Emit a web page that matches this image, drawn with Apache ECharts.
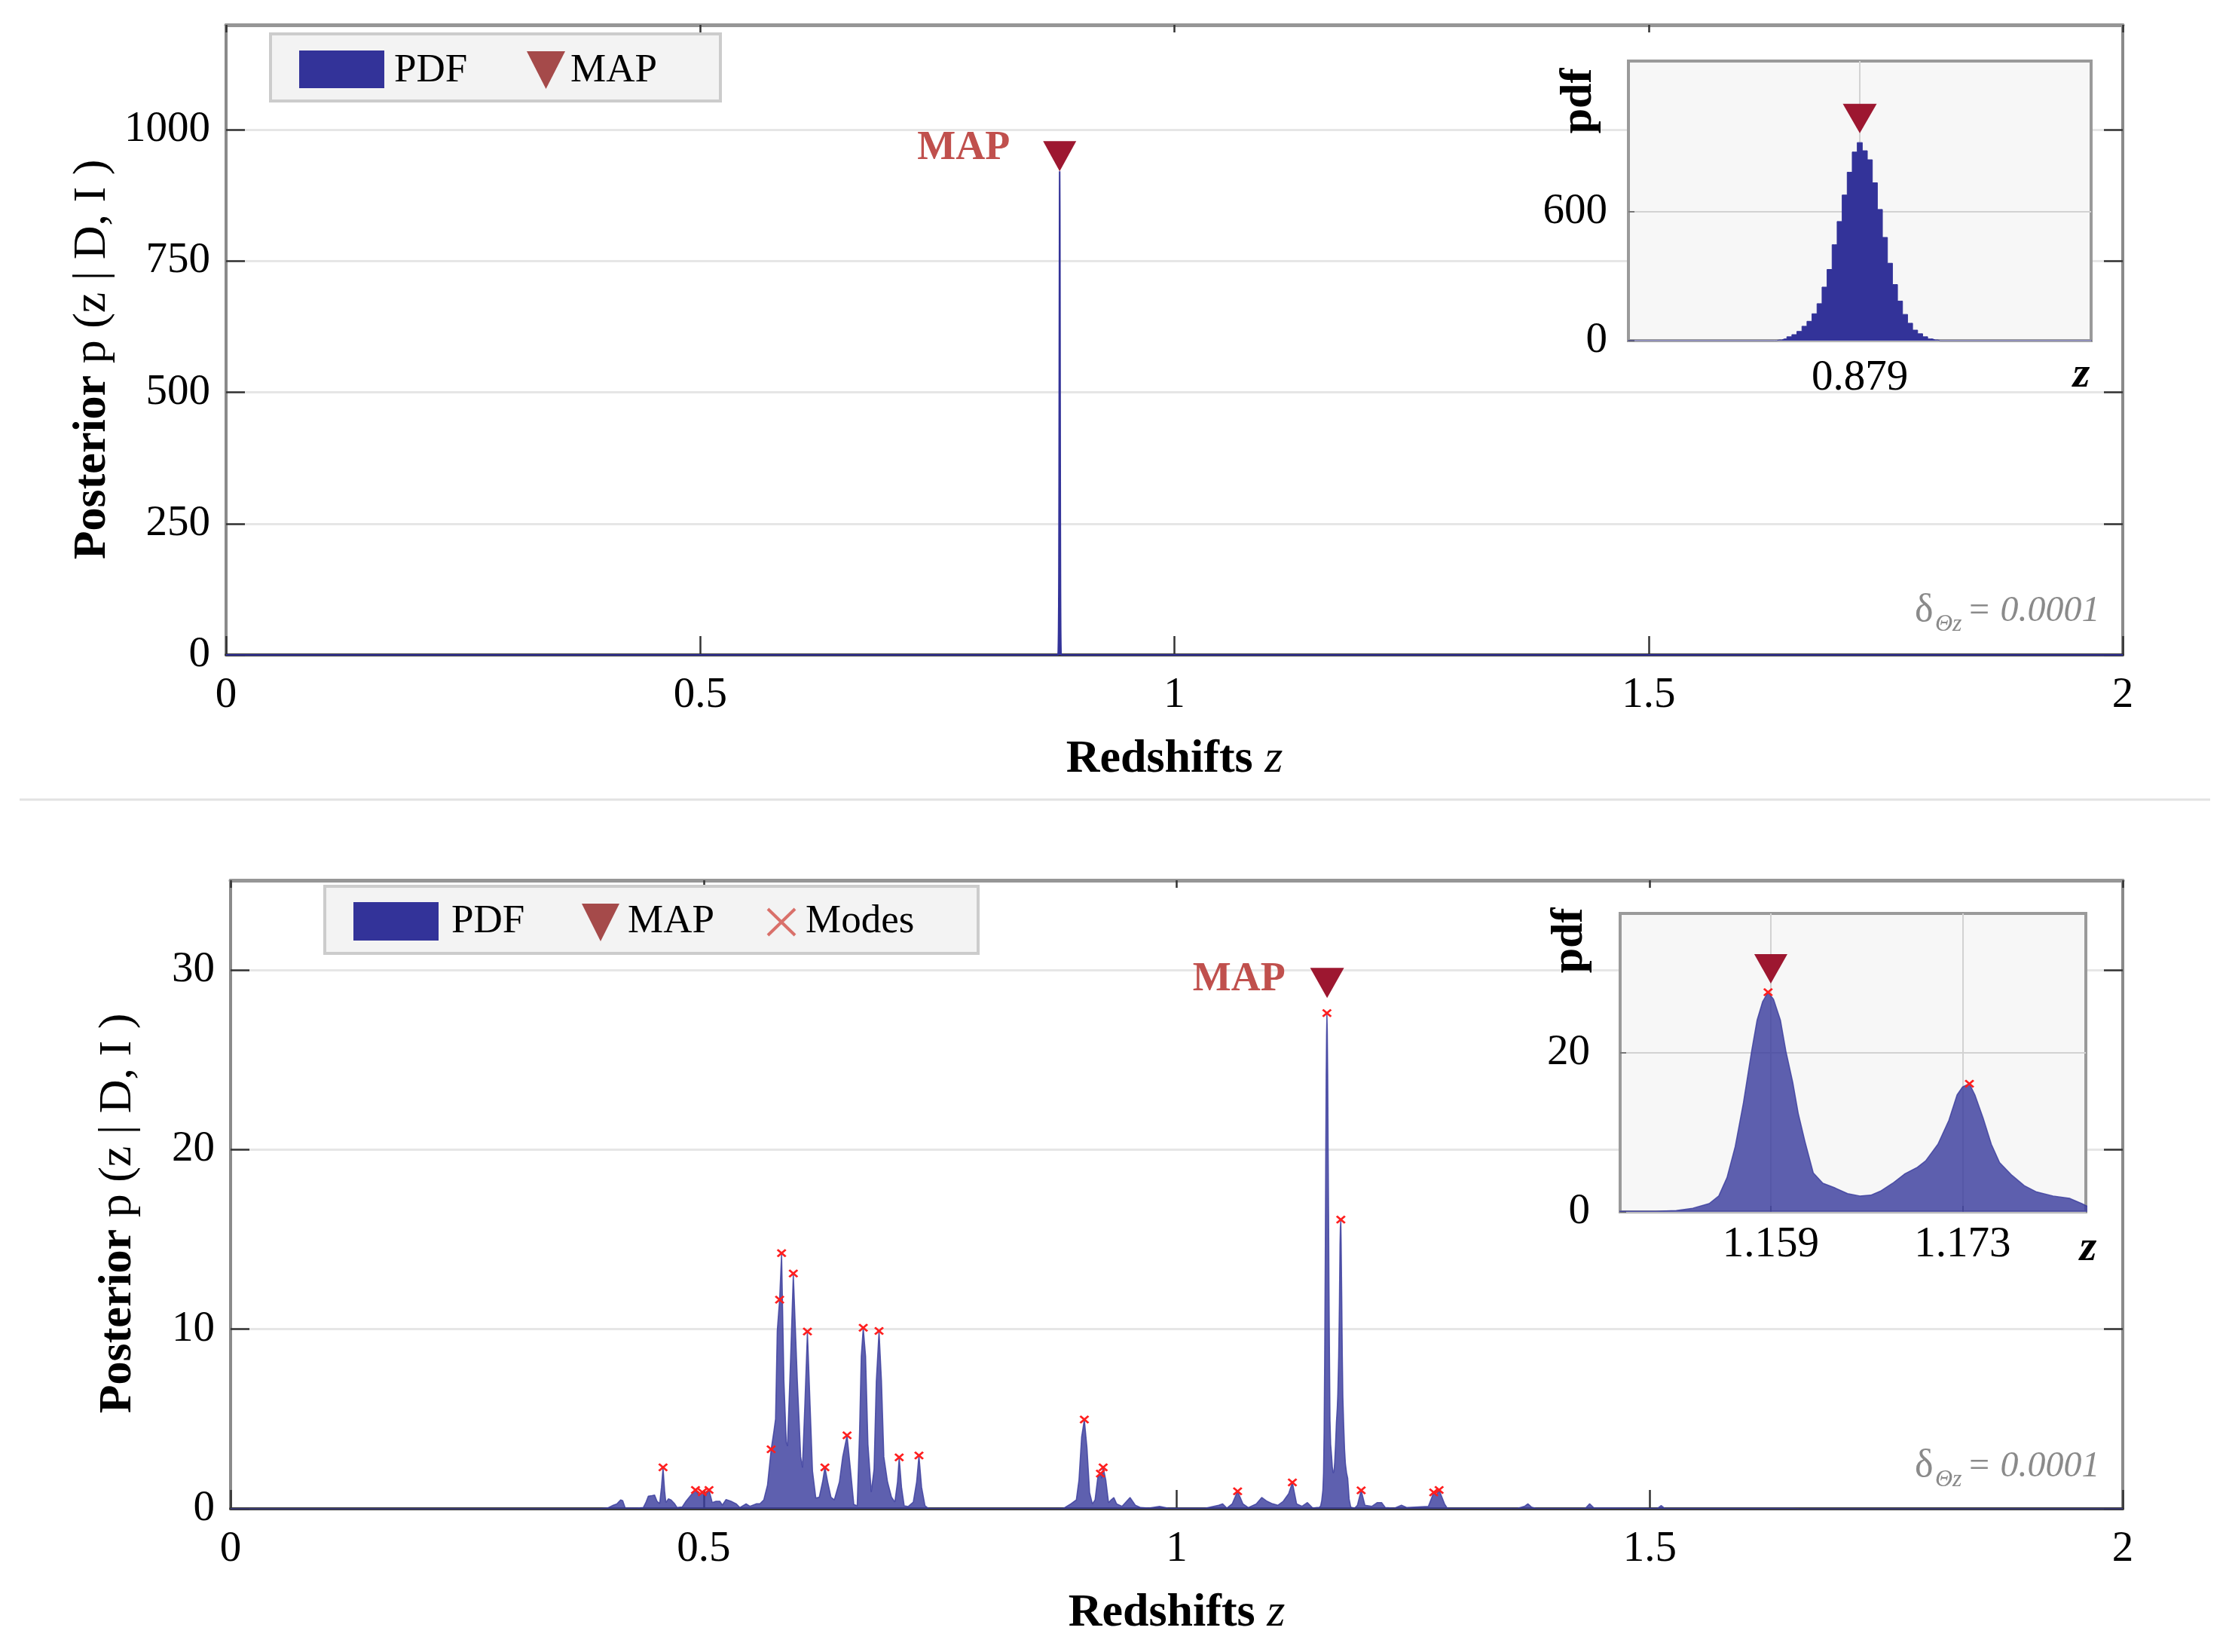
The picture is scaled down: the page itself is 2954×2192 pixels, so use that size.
<!DOCTYPE html>
<html>
<head>
<meta charset="utf-8">
<script src="https://cdn.jsdelivr.net/npm/echarts@6/dist/echarts.min.js"></script>
<style>
html,body{margin:0;padding:0;background:#ffffff;}
#c{width:2954px;height:2192px;}
</style>
</head>
<body>
<div id="c"></div>
<script>
// ---------------- DATA ----------------
const xTicksMain = [0, 0.5, 1, 1.5, 2];
const topYTicks = [0, 250, 500, 750, 1000];
const topInsetYTicks = [0, 600];
const topInsetXTicks = [0.879];
const botYTicks = [0, 10, 20, 30];
const botInsetYTicks = [0, 20];
const botInsetXTicks = [1.159, 1.173];

// top panel: posterior pdf bins (delta = 0.0001)
const topPdfZ = [0, 0.8773,
  0.8774,0.8775,0.8776,0.8777,0.8778,0.8779,0.8780,0.8781,0.8782,0.8783,0.8784,0.8785,0.8786,0.8787,0.8788,0.8789,
  0.8790,0.8791,0.8792,0.8793,0.8794,0.8795,0.8796,0.8797,0.8798,0.8799,0.8800,0.8801,0.8802,0.8803,0.8804,0.8805,
  0.8806, 2];
const topPdfVal = [0, 0,
  3,8,18,28,43,67,90,125,172,249,331,446,554,677,783,877,
  921,883,841,734,610,480,360,261,184,122,81,49,32,18,8,3,
  0, 0];
const topMap = [0.879, 921];

// bottom panel: posterior pdf outline [z, p]
const botPdf = [
  [0,0],[0.390,0],[0.3985,0.05],[0.4045,0.20],[0.4084,0.28],[0.4124,0.50],[0.4145,0.45],[0.4171,0.05],[0.4300,0.04],
  [0.4362,0.07],[0.4389,0.35],[0.4415,0.70],[0.4455,0.74],[0.4481,0.77],[0.4508,0.42],[0.4535,0.30],[0.4554,1.20],[0.4571,2.31],[0.4588,1.00],[0.4601,0.35],[0.4628,0.56],[0.4654,0.50],[0.4694,0.28],[0.4720,0.07],
  [0.4773,0.10],[0.4813,0.42],[0.4866,0.77],[0.4914,1.05],[0.4951,0.75],[0.4986,0.92],[0.5020,0.75],[0.5057,1.05],[0.5091,0.35],[0.5131,0.42],[0.5171,0.42],[0.5198,0.21],[0.5237,0.52],[0.5290,0.42],[0.5344,0.28],[0.5383,0.07],
  [0.5449,0.28],[0.5489,0.14],[0.5556,0.28],[0.5595,0.28],[0.5635,0.49],[0.5675,1.33],[0.5714,3.32],
  [0.5742,4.3],[0.5760,5.0],[0.5778,9.9],[0.5803,11.65],[0.5824,14.24],[0.5849,7.1],[0.5874,3.7],[0.5886,3.5],[0.5920,8.5],[0.5948,13.1],[0.5991,7.1],[0.6026,2.9],[0.6044,2.3],[0.6069,5.7],[0.6097,9.87],[0.6126,5.7],[0.6151,2.1],[0.6186,0.6],[0.6222,0.65],[0.6257,1.5],[0.6282,2.31],[0.6311,1.5],[0.6346,0.65],[0.6381,0.5],[0.6435,1.5],[0.6470,2.9],[0.6516,4.09],[0.6552,2.2],[0.6588,0.24],[0.6623,0.17],[0.6648,4.3],[0.6666,8.5],[0.6687,10.08],[0.6712,8.5],[0.6737,3.6],[0.6772,0.94],[0.6801,2.2],[0.6825,7.1],[0.6854,9.9],[0.6880,7.1],[0.6905,2.9],[0.6944,1.5],[0.6986,0.65],[0.7021,0.38],[0.7049,1.5],[0.7067,2.86],[0.7092,1.2],[0.7120,0.17],[0.7163,0.13],[0.7216,0.38],[0.7251,1.5],[0.7276,2.97],[0.7304,1.2],[0.7340,0.17],[0.7375,0.03],
  [0.8800,0.02],[0.8882,0.28],[0.8939,0.5],[0.8967,1.6],[0.8995,4.0],[0.9024,4.97],[0.9052,3.4],[0.9080,0.9],[0.9109,0.28],[0.9137,0.5],[0.9166,1.75],[0.9194,1.96],[0.9208,1.7],[0.9223,2.31],[0.9251,1.6],[0.9280,0.35],[0.9308,0.5],[0.9336,0.63],[0.9365,0.28],[0.9422,0.14],[0.9507,0.63],[0.9563,0.2],[0.9620,0.07],[0.9706,0.04],[0.9819,0.14],[0.9905,0.04],
  [1.0300,0.03],[1.0445,0.2],[1.0485,0.28],[1.0530,0.04],[1.0587,0.28],[1.0644,0.98],[1.0700,0.28],[1.0757,0.07],[1.0843,0.28],[1.0899,0.63],[1.0956,0.42],[1.1013,0.28],[1.1069,0.2],[1.1126,0.42],[1.1183,0.84],[1.1223,1.47],[1.1268,0.28],[1.1325,0.14],[1.1382,0.35],[1.1439,0.04],
  [1.1482,0.07],[1.1506,0.07],[1.1521,0.16],[1.1533,0.46],[1.1545,1.04],[1.1552,2.0],[1.1558,4.3],[1.1564,8.2],[1.1570,13.7],[1.1576,20.2],[1.1580,24.1],[1.1584,26.4],[1.1588,27.6],[1.1592,26.7],[1.1597,24.1],[1.1601,20.2],[1.1606,16.3],[1.1610,12.4],[1.1615,8.8],[1.1621,4.9],[1.1628,3.6],[1.1637,3.0],[1.1646,2.3],[1.1655,2.0],[1.1663,2.1],[1.1670,2.6],[1.1679,3.6],[1.1688,4.8],[1.1697,5.6],[1.1703,6.4],[1.1712,8.5],[1.1720,11.5],[1.1726,14.7],[1.1730,15.7],[1.1735,16.1],[1.1739,14.7],[1.1745,11.8],[1.1751,8.5],[1.1757,6.2],[1.1766,4.6],[1.1775,3.3],[1.1784,2.5],[1.1796,2.0],[1.1808,1.7],[1.1817,1.04],[1.1823,0.55],[1.1840,0.1],
  [1.1880,0.03],[1.1910,0.2],[1.1950,1.03],[1.1990,0.2],[1.2064,0.14],[1.2121,0.35],[1.2166,0.35],[1.2206,0.07],[1.2300,0.03],[1.2376,0.2],[1.2434,0.07],[1.2660,0.14],[1.2717,0.91],[1.2745,0.75],[1.2774,1.05],[1.2831,0.28],[1.2860,0.04],
  [1.3600,0.02],[1.3680,0.15],[1.3712,0.28],[1.3750,0.1],[1.3800,0.02],[1.4320,0.03],[1.4365,0.28],[1.4410,0.05],[1.5080,0.02],[1.5121,0.18],[1.5160,0.02],[1.6500,0.02],[1.6600,0],[2,0]
];
const botModes = [
  [0.4571,2.31],[0.4914,1.05],[0.4986,0.92],[0.5057,1.05],[0.5714,3.32],[0.5803,11.65],[0.5824,14.24],[0.5948,13.1],
  [0.6097,9.87],[0.6282,2.31],[0.6516,4.09],[0.6687,10.08],[0.6854,9.9],[0.7067,2.86],[0.7276,2.97],[0.9024,4.97],
  [0.9194,1.96],[0.9223,2.31],[1.0644,0.98],[1.1223,1.47],[1.1588,27.6],[1.1735,16.1],[1.1950,1.03],[1.2717,0.91],[1.2774,1.05]
];
const botMap = [1.159, 27.6];

// ---------------- STYLE ----------------
const FONT = 'Liberation Serif';
const PDF_TOP = '#333399';
const PDF_BOT = 'rgba(58,61,158,0.82)';
const MAP_COL = '#9d1730';
const MAP_TXT = '#c0504d';
const MODE_COL = '#ff1f1f';
const TRI_DOWN = 'path://M0,0L10,0L5,10Z';
const CROSS = 'path://M0,1.6L1.6,0L5,3.4L8.4,0L10,1.6L6.6,5L10,8.4L8.4,10L5,6.6L1.6,10L0,8.4L3.4,5Z';

const topPdf = topPdfZ.map((z, i) => [z, topPdfVal[i]]);

const plain = (v) => String(v);
const lbl = (extra) => Object.assign({fontFamily: FONT, fontSize: 57, color: '#000', formatter: plain}, extra);
const tickStyle = {color: '#333', width: 2.5};
const yName = (shift) => ({
  fontFamily: FONT, fontSize: 62, color: '#000', padding: [0, shift, 0, 0],
  rich: {
    b: {fontFamily: FONT, fontSize: 62, fontWeight: 'bold', color: '#000'},
    r: {fontFamily: FONT, fontSize: 62, color: '#000'}
  }
});
const xName = {
  fontFamily: FONT, fontSize: 62, color: '#000',
  rich: {
    b: {fontFamily: FONT, fontSize: 62, fontWeight: 'bold', color: '#000'},
    i: {fontFamily: FONT, fontSize: 62, fontStyle: 'italic', color: '#000'}
  }
};

function mainXAxes(gi) {
  return [
    {type: 'value', gridIndex: gi, position: 'bottom', min: 0, max: 2, interval: 0.5,
     axisLine: {show: true, onZero: false, lineStyle: {color: '#3c3c3c', width: 4}},
     axisTick: {show: true, inside: true, length: 25, lineStyle: tickStyle},
     axisLabel: lbl({margin: 26}),
     splitLine: {show: false},
     name: '{b|Redshifts} {i|z}', nameLocation: 'middle', nameGap: 108, nameTextStyle: xName},
    {type: 'value', gridIndex: gi, position: 'top', min: 0, max: 2, interval: 0.5,
     axisLine: {show: true, onZero: false, lineStyle: {color: '#969696', width: 5}},
     axisTick: {show: true, inside: true, length: 10, lineStyle: tickStyle},
     axisLabel: {show: false}, splitLine: {show: false}}
  ];
}
function mainYAxes(gi, max, interval, ticks, gap, shift) {
  return [
    {type: 'value', gridIndex: gi, position: 'left', min: 0, max: max, interval: interval,
     axisLine: {show: true, onZero: false, lineStyle: {color: '#8a8a8a', width: 4}},
     axisTick: {show: true, inside: true, length: 25, customValues: ticks, lineStyle: tickStyle},
     axisLabel: lbl({margin: 21, customValues: ticks}),
     splitLine: {show: true, lineStyle: {color: '#e6e6e6', width: 3}},
     name: '{b|Posterior} {r|p (z | D, I )}', nameLocation: 'middle', nameRotate: 90, nameGap: gap, nameTextStyle: yName(shift)},
    {type: 'value', gridIndex: gi, position: 'right', min: 0, max: max, interval: interval,
     axisLine: {show: true, onZero: false, lineStyle: {color: '#8a8a8a', width: 4}},
     axisTick: {show: true, inside: true, length: 25, customValues: ticks, lineStyle: tickStyle},
     axisLabel: {show: false}, splitLine: {show: false}}
  ];
}
function insetX(gi, min, max, ticks, margin) {
  return {type: 'value', gridIndex: gi, min: min, max: max, z: 11,
    axisLine: {show: false},
    axisTick: {show: true, inside: true, length: 8, customValues: ticks, lineStyle: {color: '#777', width: 2}},
    axisLabel: lbl({margin: margin, customValues: ticks}),
    splitLine: {show: true, lineStyle: {color: '#d2d2d2', width: 2}}};
}
function insetY(gi, max, ticks, margin) {
  return {type: 'value', gridIndex: gi, min: 0, max: max, z: 11,
    axisLine: {show: false},
    axisTick: {show: true, inside: true, length: 8, customValues: ticks, lineStyle: {color: '#777', width: 2}},
    axisLabel: lbl({margin: margin, customValues: ticks}),
    splitLine: {show: true, lineStyle: {color: '#d2d2d2', width: 2}}};
}

const mapLabel = (dist, off) => ({
  show: true, position: 'left', distance: dist, offset: off, formatter: '{a}',
  fontFamily: FONT, fontWeight: 'bold', fontSize: 54, color: MAP_TXT
});

const txt = (x, y, text, font, fill, extra) => Object.assign({
  type: 'text', x: x, y: y, z: 100,
  style: {text: text, font: font, fill: fill || '#000', textAlign: 'left', textVerticalAlign: 'middle'}
}, extra || {});
const ctxt = (x, y, text, font, rot) => ({
  type: 'text', x: x, y: y, z: 100, rotation: rot || 0,
  style: {text: text, font: font, fill: '#000', textAlign: 'center', textVerticalAlign: 'middle'}
});

const graphics = [
  {type: 'line', z: 100, shape: {x1: 26, y1: 1061, x2: 2933, y2: 1061}, style: {stroke: '#e2e2e2', lineWidth: 3}},
  // top legend
  {type: 'rect', z: 100, shape: {x: 359, y: 45, width: 597, height: 89}, style: {fill: '#f3f3f3', stroke: '#cccccc', lineWidth: 4}},
  {type: 'rect', z: 101, shape: {x: 397, y: 67, width: 113, height: 50}, style: {fill: '#333399'}},
  txt(523, 94, 'PDF', '53px "Liberation Serif"'),
  {type: 'polygon', z: 101, shape: {points: [[699, 68], [750, 68], [724.5, 118]]}, style: {fill: '#a54a4a'}},
  txt(757, 94, 'MAP', '53px "Liberation Serif"'),
  // bottom legend
  {type: 'rect', z: 100, shape: {x: 431, y: 1176, width: 867, height: 89}, style: {fill: '#f3f3f3', stroke: '#cccccc', lineWidth: 4}},
  {type: 'rect', z: 101, shape: {x: 469, y: 1197, width: 113, height: 51}, style: {fill: '#333399'}},
  txt(599, 1223, 'PDF', '53px "Liberation Serif"'),
  {type: 'polygon', z: 101, shape: {points: [[772, 1199], [822, 1199], [797, 1249]]}, style: {fill: '#a54a4a'}},
  txt(833, 1223, 'MAP', '53px "Liberation Serif"'),
  {type: 'line', z: 101, shape: {x1: 1019, y1: 1206, x2: 1055, y2: 1241}, style: {stroke: '#d9706a', lineWidth: 4}},
  {type: 'line', z: 101, shape: {x1: 1055, y1: 1206, x2: 1019, y2: 1241}, style: {stroke: '#d9706a', lineWidth: 4}},
  txt(1069, 1223, 'Modes', '53px "Liberation Serif"'),
  // resolution notes
  txt(2541, 810, 'δ', '52px "Liberation Serif"', '#8a8a8a'),
  txt(2568, 829, 'Θz', 'italic 32px "Liberation Serif"', '#8a8a8a'),
  txt(2610, 811, '= 0.0001', 'italic 48px "Liberation Serif"', '#8a8a8a'),
  txt(2541, 1945, 'δ', '52px "Liberation Serif"', '#8a8a8a'),
  txt(2568, 1964, 'Θz', 'italic 32px "Liberation Serif"', '#8a8a8a'),
  txt(2610, 1946, '= 0.0001', 'italic 48px "Liberation Serif"', '#8a8a8a'),
  // inset axis names
  ctxt(2095, 134, 'pdf', 'bold 60px "Liberation Serif"', Math.PI / 2),
  ctxt(2083, 1248, 'pdf', 'bold 60px "Liberation Serif"', Math.PI / 2),
  ctxt(2762, 498, 'z', 'italic bold 58px "Liberation Serif"'),
  ctxt(2771, 1657, 'z', 'italic bold 58px "Liberation Serif"')
];

const option = {
  animation: false,
  backgroundColor: '#ffffff',
  textStyle: {fontFamily: FONT},
  grid: [
    {left: 300, top: 33, width: 2517, height: 836, outerBoundsMode: 'none'},
    {left: 2161, top: 81, width: 614, height: 371, show: true, backgroundColor: '#f7f7f7', borderColor: '#9a9a9a', borderWidth: 4, z: 10, outerBoundsMode: 'none'},
    {left: 306, top: 1168, width: 2511, height: 834, outerBoundsMode: 'none'},
    {left: 2150, top: 1212, width: 618, height: 396, show: true, backgroundColor: '#f7f7f7', borderColor: '#9a9a9a', borderWidth: 4, z: 10, outerBoundsMode: 'none'}
  ],
  xAxis: [
    ...mainXAxes(0),
    insetX(1, 0.8744, 0.8836, topInsetXTicks, 22),
    ...mainXAxes(2),
    insetX(3, 1.148, 1.182, botInsetXTicks, 16)
  ],
  yAxis: [
    ...mainYAxes(0, 1200, 250, topYTicks, 137, 52),
    insetY(1, 1300, topInsetYTicks, 28),
    ...mainYAxes(2, 35, 10, botYTicks, 118, 50),
    insetY(3, 37.5, botInsetYTicks, 40)
  ],
  series: [
    {name: 'PDF', type: 'line', xAxisIndex: 0, yAxisIndex: 0, data: topPdf, showSymbol: false, symbol: 'none', z: 2,
     lineStyle: {color: PDF_TOP, width: 2}, areaStyle: {color: PDF_TOP, opacity: 1}, itemStyle: {color: PDF_TOP}},
    {name: 'PDF', type: 'line', xAxisIndex: 2, yAxisIndex: 2, data: topPdf, showSymbol: false, symbol: 'none', step: 'middle', z: 12,
     lineStyle: {color: PDF_TOP, width: 1}, areaStyle: {color: PDF_TOP, opacity: 1}, itemStyle: {color: PDF_TOP}},
    {name: 'MAP', type: 'scatter', xAxisIndex: 0, yAxisIndex: 0, data: [topMap], symbol: TRI_DOWN, symbolKeepAspect: false,
     symbolSize: [44, 40], symbolOffset: [0, -20], itemStyle: {color: MAP_COL, opacity: 1}, z: 5, label: mapLabel(44, [0, -10])},
    {name: 'MAP', type: 'scatter', xAxisIndex: 2, yAxisIndex: 2, data: [topMap], symbol: TRI_DOWN, symbolKeepAspect: false, clip: false,
     symbolSize: [45, 39], symbolOffset: [0, -32], itemStyle: {color: MAP_COL, opacity: 1}, z: 13},

    {name: 'PDF', type: 'line', xAxisIndex: 3, yAxisIndex: 3, data: botPdf, showSymbol: false, symbol: 'none', z: 2,
     lineStyle: {color: PDF_BOT, width: 1.5}, areaStyle: {color: PDF_BOT, opacity: 1}, itemStyle: {color: PDF_BOT}},
    {name: 'PDF', type: 'line', xAxisIndex: 5, yAxisIndex: 5, data: botPdf, showSymbol: false, symbol: 'none', z: 12,
     lineStyle: {color: PDF_BOT, width: 1.5}, areaStyle: {color: PDF_BOT, opacity: 1}, itemStyle: {color: PDF_BOT}},
    {name: 'Modes', type: 'scatter', xAxisIndex: 3, yAxisIndex: 3, data: botModes, symbol: CROSS, symbolKeepAspect: false,
     symbolSize: [13, 11], itemStyle: {color: MODE_COL, opacity: 1}, z: 4},
    {name: 'Modes', type: 'scatter', xAxisIndex: 5, yAxisIndex: 5, data: botModes, symbol: CROSS, symbolKeepAspect: false, clip: true,
     symbolSize: [13, 11], itemStyle: {color: MODE_COL, opacity: 1}, z: 13},
    {name: 'MAP', type: 'scatter', xAxisIndex: 3, yAxisIndex: 3, data: [botMap], symbol: TRI_DOWN, symbolKeepAspect: false,
     symbolSize: [45, 40], symbolOffset: [0, -40], itemStyle: {color: MAP_COL, opacity: 1}, z: 5, label: mapLabel(33, [0, -4])},
    {name: 'MAP', type: 'scatter', xAxisIndex: 5, yAxisIndex: 5, data: [botMap], symbol: TRI_DOWN, symbolKeepAspect: false, clip: false,
     symbolSize: [44, 39], symbolOffset: [0, -31], itemStyle: {color: MAP_COL, opacity: 1}, z: 13}
  ],
  graphic: {elements: graphics}
};

const chart = echarts.init(document.getElementById('c'), null, {renderer: 'canvas', width: 2954, height: 2192});
chart.setOption(option);
</script>
</body>
</html>
